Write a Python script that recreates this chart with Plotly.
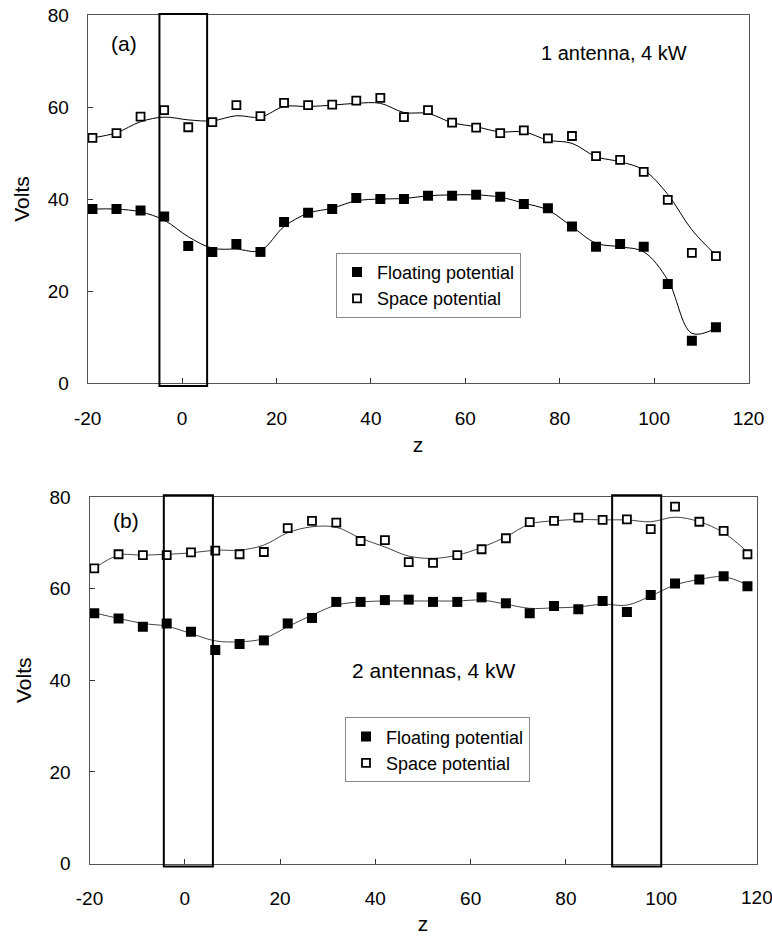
import plotly.graph_objects as go

# ---------------- data ----------------
z_a = [-19.0, -13.9, -8.8, -3.8, 1.3, 6.4, 11.5, 16.6, 21.6, 26.7, 31.8, 36.9, 42.0, 47.0,
       52.1, 57.2, 62.3, 67.4, 72.4, 77.5, 82.6, 87.7, 92.8, 97.8, 102.9, 108.0, 113.1]
space_a = [53.3, 54.3, 57.9, 59.3, 55.6, 56.7, 60.4, 58.0, 60.9, 60.4, 60.5, 61.4, 62.0, 57.8,
           59.3, 56.6, 55.5, 54.3, 54.9, 53.2, 53.7, 49.3, 48.5, 45.9, 39.8, 28.3, 27.6]
float_a = [37.8, 37.8, 37.5, 36.2, 29.8, 28.5, 30.2, 28.5, 35.0, 37.0, 37.8, 40.2, 40.0, 40.0,
           40.7, 40.7, 40.9, 40.5, 38.9, 38.0, 34.0, 29.6, 30.2, 29.6, 21.5, 9.2, 12.1]
space_a_fit = [53.3, 54.4, 56.8, 57.8, 57.2, 57.0, 58.1, 57.8, 60.1, 60.1, 60.4, 60.8, 60.8, 58.8,
               58.6, 56.6, 55.7, 54.6, 54.6, 52.8, 52.1, 49.2, 48.1, 46.3, 41.0, 33.3, 27.8]
float_a_fit = [37.8, 37.8, 37.2, 35.4, 31.8, 29.3, 29.1, 28.8, 34.0, 36.9, 38.0, 39.6, 40.0, 40.1,
               40.7, 40.9, 40.9, 40.4, 39.1, 37.6, 34.0, 30.4, 29.6, 28.5, 22.4, 10.8, 11.9]

z_b = [-19.0, -13.9, -8.8, -3.8, 1.3, 6.4, 11.5, 16.6, 21.6, 26.7, 31.8, 36.9, 42.0, 47.0,
       52.1, 57.2, 62.3, 67.4, 72.4, 77.5, 82.6, 87.7, 92.8, 97.8, 102.9, 108.0, 113.1, 118.1]
space_b = [64.4, 67.5, 67.3, 67.3, 67.9, 68.3, 67.5, 68.0, 73.2, 74.8, 74.4, 70.4, 70.6, 65.8,
           65.6, 67.3, 68.6, 71.0, 74.5, 74.8, 75.5, 75.0, 75.1, 73.0, 77.9, 74.6, 72.6, 67.5]
float_b = [54.6, 53.5, 51.7, 52.4, 50.6, 46.6, 47.9, 48.7, 52.4, 53.6, 57.1, 57.1, 57.5, 57.6,
           57.1, 57.1, 58.1, 56.8, 54.6, 56.2, 55.5, 57.3, 54.9, 58.6, 61.1, 62.0, 62.7, 60.5]
space_b_fit = [64.4, 67.3, 67.3, 67.5, 67.8, 68.4, 68.4, 69.5, 72.2, 73.5, 73.4, 71.0, 69.1, 67.1,
               66.6, 67.3, 69.0, 71.3, 74.1, 74.8, 75.1, 75.0, 75.0, 74.6, 75.6, 74.6, 72.2, 68.0]
float_b_fit = [54.7, 53.5, 52.4, 51.8, 50.2, 48.6, 48.4, 49.1, 51.7, 54.2, 56.4, 57.1, 57.3, 57.3,
               57.3, 57.3, 57.5, 56.6, 55.7, 55.8, 56.0, 56.6, 56.4, 58.4, 60.8, 62.0, 62.6, 60.8]

antenna_a = [(-4.8, 5.3)]
antenna_b = [(-4.4, 5.9), (89.7, 100.0)]

x_ticks = [-20, 0, 20, 40, 60, 80, 100, 120]
x_ticktext = ["-20", "0", "20", "40", "60", "80", "100", "120"]
y_ticks = [0, 20, 40, 60, 80]

FONT = "Arial, Liberation Sans, Helvetica, sans-serif"

fig = go.Figure()

def add_panel(xax, yax, legend, z, sp, fl, sp_fit, fl_fit, line_color):
    fig.add_trace(go.Scatter(x=z, y=sp_fit, mode="lines", line=dict(color=line_color, width=1, shape="spline", smoothing=1.0),
                             xaxis=xax, yaxis=yax, showlegend=False, hoverinfo="skip"))
    fig.add_trace(go.Scatter(x=z, y=fl_fit, mode="lines", line=dict(color=line_color, width=1, shape="spline", smoothing=1.0),
                             xaxis=xax, yaxis=yax, showlegend=False, hoverinfo="skip"))
    fig.add_trace(go.Scatter(x=z, y=fl, mode="markers", name="Floating potential",
                             marker=dict(symbol="square", size=10, color="black", line=dict(width=0)),
                             xaxis=xax, yaxis=yax, legend=legend))
    fig.add_trace(go.Scatter(x=z, y=sp, mode="markers", name="Space potential",
                             marker=dict(symbol="square", size=8, color="white", line=dict(width=1.8, color="black")),
                             xaxis=xax, yaxis=yax, legend=legend))

add_panel("x", "y", "legend", z_a, space_a, float_a, space_a_fit, float_a_fit, "black")
add_panel("x2", "y2", "legend2", z_b, space_b, float_b, space_b_fit, float_b_fit, "#444")

W, H = 772, 937
axis_common = dict(showgrid=False, zeroline=False, showline=True, mirror=True, linecolor="#555", linewidth=1,
                   ticks="inside", ticklen=5, tickcolor="#333", tickfont=dict(family=FONT, size=19, color="black"),
                   automargin=False)

xa_dom = [87.7 / W, 748.5 / W]
ya_dom = [1 - 383 / H, 1 - 15 / H]
xb_dom = [89.5 / W, 756.5 / W]
yb_dom = [1 - 863.5 / H, 1 - 497 / H]

fig.update_layout(
    width=W, height=H, margin=dict(l=0, r=0, t=0, b=0),
    paper_bgcolor="white", plot_bgcolor="white",
    font=dict(family=FONT, color="black"),
    xaxis=dict(domain=xa_dom, anchor="y", range=[-20, 120], tickvals=x_ticks, ticktext=x_ticktext,
               ticklabelstandoff=18, title=dict(text="z", font=dict(size=21), standoff=9), **axis_common),
    yaxis=dict(domain=ya_dom, anchor="x", range=[0, 80], tickvals=y_ticks, ticklabelstandoff=14,
               title=dict(text="Volts", font=dict(size=21), standoff=12), **axis_common),
    xaxis2=dict(domain=xb_dom, anchor="y2", range=[-20, 120], tickvals=x_ticks, ticktext=x_ticktext,
                ticklabelstandoff=18, title=dict(text="z", font=dict(size=21), standoff=8), **axis_common),
    yaxis2=dict(domain=yb_dom, anchor="x2", range=[0, 80], tickvals=y_ticks, ticklabelstandoff=14,
                title=dict(text="Volts", font=dict(size=21), standoff=12), **axis_common),
    legend=dict(x=336 / W, y=1 - 252.7 / H, xanchor="left", yanchor="top", bgcolor="white",
                bordercolor="#888", borderwidth=1, font=dict(family=FONT, size=18),
                traceorder="normal", itemwidth=30),
    legend2=dict(x=345 / W, y=1 - 717.3 / H, xanchor="left", yanchor="top", bgcolor="white",
                 bordercolor="#888", borderwidth=1, font=dict(family=FONT, size=18),
                 traceorder="normal", itemwidth=30),
    showlegend=True,
)

shapes = []
for (x0, x1) in antenna_a:
    shapes.append(dict(type="rect", xref="x", yref="y domain", x0=x0, x1=x1, y0=-0.008, y1=1.003,
                       line=dict(color="black", width=2), fillcolor="rgba(0,0,0,0)"))
for (x0, x1) in antenna_b:
    shapes.append(dict(type="rect", xref="x2", yref="y2 domain", x0=x0, x1=x1, y0=-0.008, y1=1.005,
                       line=dict(color="black", width=2), fillcolor="rgba(0,0,0,0)"))
fig.update_layout(shapes=shapes)

annotations = [
    dict(text="(a)", x=124 / W, y=1 - 43 / H, xref="paper", yref="paper", showarrow=False,
         font=dict(family=FONT, size=21), xanchor="center", yanchor="middle"),
    dict(text="1 antenna, 4 kW", x=614 / W, y=1 - 53 / H, xref="paper", yref="paper", showarrow=False,
         font=dict(family=FONT, size=20), xanchor="center", yanchor="middle"),
    dict(text="(b)", x=126 / W, y=1 - 520 / H, xref="paper", yref="paper", showarrow=False,
         font=dict(family=FONT, size=21), xanchor="center", yanchor="middle"),
    dict(text="2 antennas, 4 kW", x=434 / W, y=1 - 670 / H, xref="paper", yref="paper", showarrow=False,
         font=dict(family=FONT, size=21), xanchor="center", yanchor="middle"),
    # right-edge tick label of panel (b), partly cut by the page edge as in the original
    dict(text="120", x=120, y=0, xref="x2", yref="paper", yshift=0, showarrow=False,
         font=dict(family=FONT, size=19), xanchor="center", yanchor="middle",
         ),
]
annotations[-1]["y"] = 1 - 897 / H
fig.update_layout(annotations=annotations)

fig.write_html("out.html")
